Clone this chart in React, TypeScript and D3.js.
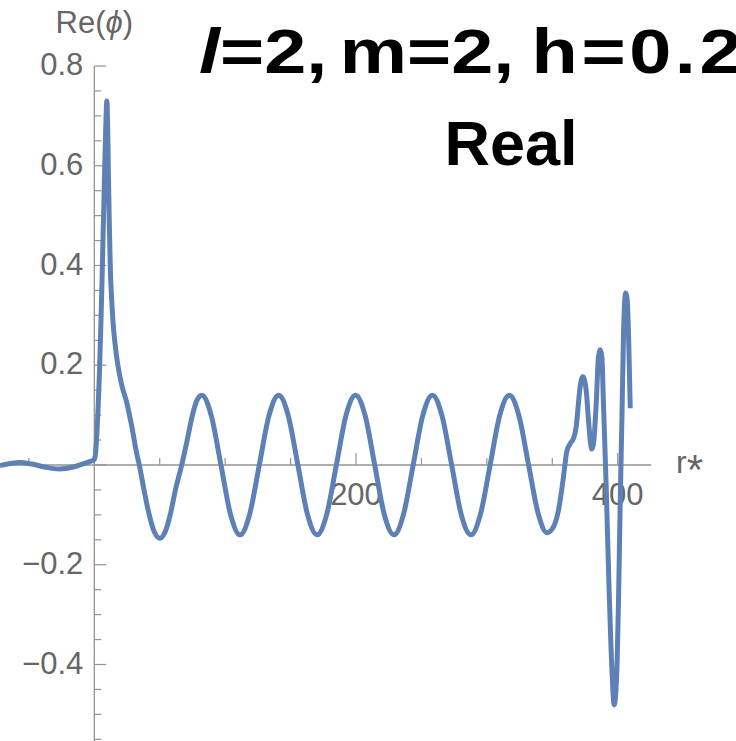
import React from "react";
import * as d3 from "d3";

// ---- data ----
const curveX: number[] = [
  -72.1, -64, -56.8, -48, -38, -26.8, -16, -8, -3.3, 0,
  1.0, 2.0, 3.0, 4.0, 5.0, 6.0, 7.0, 8.0, 9.0, 9.6,
  10.2, 10.8, 11.5, 12.3, 13.3, 14.5, 16, 18, 21, 24.8, 28.6, 32.4, 34.4,
  38, 42, 46, 50.2, 54, 58, 62, 66.8, 71, 75, 78.5,
  82.1, 89.4, 96.8, 104.1, 111.4, 118.7, 126.1, 133.5,
  140.9, 148.2, 155.6, 162.9, 170.3, 177.6, 185.0, 192.3,
  199.6, 207.0, 214.3, 221.6, 229.0, 236.3, 243.7, 251.0,
  258.4, 265.7, 273.1, 280.4, 287.8, 295.1, 302.5, 309.8,
  317.2, 324.5, 331.9, 339.2, 346.0,
  350.9, 354.8, 358.6, 361.1, 363.7, 366.2, 368.3, 370.0, 371.3, 373.4,
  375.9, 377.7, 379.2, 380.3, 381.6, 383.6, 385.3, 386.6, 387.9, 389.1,
  391.2, 393.0, 395.6, 397.3, 399.4, 400.6, 401.9, 403.2, 404.4, 406.0,
  407.3, 408.3, 409.6,
];
const curveY: number[] = [
  -0.001, 0.003, 0.005, 0.002, -0.004, -0.008, -0.004, 0.003, 0.007, 0.011,
  0.025, 0.065, 0.12, 0.19, 0.28, 0.38, 0.49, 0.6, 0.7, 0.73,
  0.68, 0.58, 0.48, 0.39, 0.33, 0.28, 0.24, 0.2, 0.16, 0.125, 0.078, 0.023, 0,
  -0.05, -0.1, -0.135, -0.147, -0.135, -0.1, -0.05, 0, 0.05, 0.1, 0.13,
  0.14, 0.099, 0, -0.099, -0.14, -0.099, 0, 0.099,
  0.14, 0.099, 0, -0.099, -0.14, -0.099, 0, 0.099,
  0.14, 0.099, 0, -0.099, -0.14, -0.099, 0, 0.099,
  0.14, 0.099, 0, -0.099, -0.14, -0.099, 0, 0.099,
  0.14, 0.099, 0, -0.097, -0.136,
  -0.124, -0.09, -0.023, 0.027, 0.043, 0.053, 0.077, 0.124, 0.157, 0.177,
  0.15, 0.09, 0.045, 0.032, 0.045, 0.124, 0.217, 0.231, 0.217, 0.124,
  -0.043, -0.211, -0.411, -0.481, -0.411, -0.277, -0.077, 0.09, 0.257, 0.345,
  0.33, 0.26, 0.114,
];

const xMajorTicks: number[] = [0, 200, 400];
const xMajorLabels: string[] = ["", "200", "400"];
const xMinorTicks: number[] = [-50, 50, 100, 150, 250, 300, 350];

const yMajorTicks: number[] = [-0.4, -0.2, 0, 0.2, 0.4, 0.6, 0.8];
const yMajorLabels: string[] = ["\u22120.4", "\u22120.2", "", "0.2", "0.4", "0.6", "0.8"];
const yMinorTicks: number[] = [
  -0.55, -0.5, -0.45, -0.35, -0.3, -0.25, -0.15, -0.1, -0.05,
  0.05, 0.1, 0.15, 0.25, 0.3, 0.35, 0.45, 0.5, 0.55, 0.65, 0.7, 0.75,
];

const xExtent: [number, number] = [-72.2, 425.5];
const yExtent: [number, number] = [-0.555, 0.8];

const W = 736;
const H = 741;
const FONT = "'Liberation Sans', Arial, Helvetica, 'DejaVu Sans', sans-serif";
const AXIS = "#939393";
const LABEL = "#666666";
const LINE = "#5E81B5";

export default function App() {
  const x = d3.scaleLinear().domain([0, 400]).range([94.3, 617.7]);
  const y = d3.scaleLinear().domain([0, 0.8]).range([465, 66]);

  const pts: [number, number][] = curveX.map((v, i) => [v, curveY[i]]);
  const path = d3
    .line<[number, number]>()
    .x((d) => x(d[0]))
    .y((d) => y(d[1]))
    .curve(d3.curveMonotoneX)(pts) as string;

  const x0 = x(0);
  const y0 = y(0);

  return (
    <svg
      width={W}
      height={H}
      style={{ position: "absolute", left: 0, top: 0, display: "block", background: "#fff" }}
      fontFamily={FONT}
    >
      {/* x axis */}
      <line x1={x(xExtent[0])} x2={x(xExtent[1])} y1={y0} y2={y0} stroke={AXIS} strokeWidth={1.3} />
      {xMinorTicks.map((t) => (
        <line key={"xm" + t} x1={x(t)} x2={x(t)} y1={y0} y2={y0 - 7} stroke={AXIS} strokeWidth={1.2} />
      ))}
      {xMajorTicks.map((t) => (
        <line key={"xM" + t} x1={x(t)} x2={x(t)} y1={y0} y2={y0 - 12} stroke={AXIS} strokeWidth={1.2} />
      ))}
      {/* y axis */}
      <line x1={x0} x2={x0} y1={y(yExtent[0])} y2={y(yExtent[1])} stroke={AXIS} strokeWidth={1.3} />
      {yMinorTicks.map((t) => (
        <line key={"ym" + t} x1={x0} x2={x0 + 7} y1={y(t)} y2={y(t)} stroke={AXIS} strokeWidth={1.2} />
      ))}
      {yMajorTicks.map((t) => (
        <line key={"yM" + t} x1={x0} x2={x0 + 12} y1={y(t)} y2={y(t)} stroke={AXIS} strokeWidth={1.2} />
      ))}

      {/* tick labels */}
      {yMajorTicks.map((t, i) => (
        <text key={"yl" + t} x={x0 - 11} y={y(t) + 9} textAnchor="end" fontSize={31} fill={LABEL}>
          {yMajorLabels[i]}
        </text>
      ))}
      {xMajorTicks.map((t, i) => (
        <text key={"xl" + t} x={x(t)} y={505} textAnchor="middle" fontSize={31} fill={LABEL}>
          {xMajorLabels[i]}
        </text>
      ))}

      {/* axis labels */}
      <text x={x0} y={33} textAnchor="middle" fontSize={31} fill={LABEL}>
        Re(<tspan fontStyle="italic">{"\u03D5"}</tspan>)
      </text>
      <text x={676} y={473.3} fontSize={32} fill={LABEL}>
        r<tspan fontSize={42} dy={11}>*</tspan>
      </text>

      {/* curve */}
      <path d={path} fill="none" stroke={LINE} strokeWidth={5} strokeLinejoin="round" strokeLinecap="butt" />

      {/* titles */}
      <text
        transform="translate(199,73) scale(1.2,1)"
        fontSize={63}
        fontWeight="bold"
        fill="#000"
      >
        <tspan fontStyle="italic">l</tspan>
        <tspan>=2,</tspan>
        <tspan dx={-7}>{" m=2,"}</tspan>
        <tspan dx={-6} letterSpacing={3}>{" h=0.2"}</tspan>
      </text>
      <text x={511} y={165} textAnchor="middle" fontSize={63} fontWeight="bold" fill="#000">
        Real
      </text>
    </svg>
  );
}
